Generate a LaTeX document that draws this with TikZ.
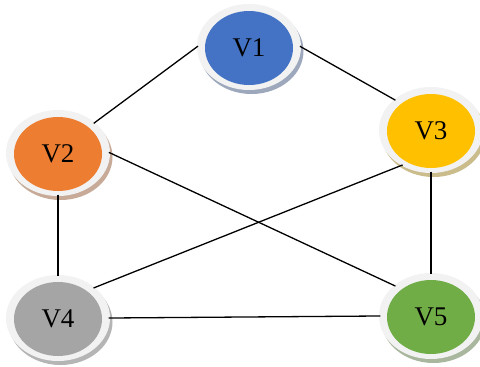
\documentclass[tikz,border=0pt]{standalone}
\usepackage{fontspec}
\setmainfont{Liberation Serif}
\usetikzlibrary{shapes.geometric,calc}
\definecolor{vblue}{HTML}{4472C4}
\definecolor{vorange}{HTML}{ED7D31}
\definecolor{vyellow}{HTML}{FFC000}
\definecolor{vgray}{HTML}{A5A5A5}
\definecolor{vgreen}{HTML}{70AD47}
\definecolor{ring}{HTML}{F2F2F2}
\tikzset{
  ringnode/.style={ellipse, fill=ring, minimum width=104pt, minimum height=86pt, inner sep=0pt},
  corenode/.style={ellipse, fill=#1, minimum width=88pt, minimum height=74pt, inner sep=0pt,
    font=\fontsize{27}{27}\selectfont},
  shadownode/.style={ellipse, fill=#1!55!black!45!white, minimum width=104pt, minimum height=86pt},
  edge/.style={draw=black, line width=1.3pt, shorten <=-1.5pt, shorten >=-1.5pt}
}
% one vertex: shadow, light ring, coloured core with label
\newcommand\vertex[4]{%
  \node[shadownode=#3] at ($(#2)+(2.5,4)$) {};
  \node[ringnode] (#1) at (#2) {};
  \node[corenode=#3] (#1c) at ($(#2)+(0,1)$) {#4};
}
\begin{document}
\begin{tikzpicture}[x=1pt,y=-1pt]
\useasboundingbox (0,0) rectangle (480,367);
\vertex{v1}{249,47}{vblue}{V1}
\vertex{v2}{58,153}{vorange}{V2}
\vertex{v3}{431,130}{vyellow}{V3}
\vertex{v4}{58,318}{vgray}{V4}
\vertex{v5}{431,316}{vgreen}{V5}
\draw[edge] (v1.west) -- (v2.north east);
\draw[edge] (v1.east) -- (v3.north west);
\draw[edge] (v2.south) -- (v4.north);
\draw[edge] (v2.east) -- (v5.north west);
\draw[edge] (v3.-130) -- (v4.north east);
\draw[edge] (v3.south) -- (v5.north);
\draw[edge] (v4.east) -- (v5.west);
\end{tikzpicture}
\end{document}
